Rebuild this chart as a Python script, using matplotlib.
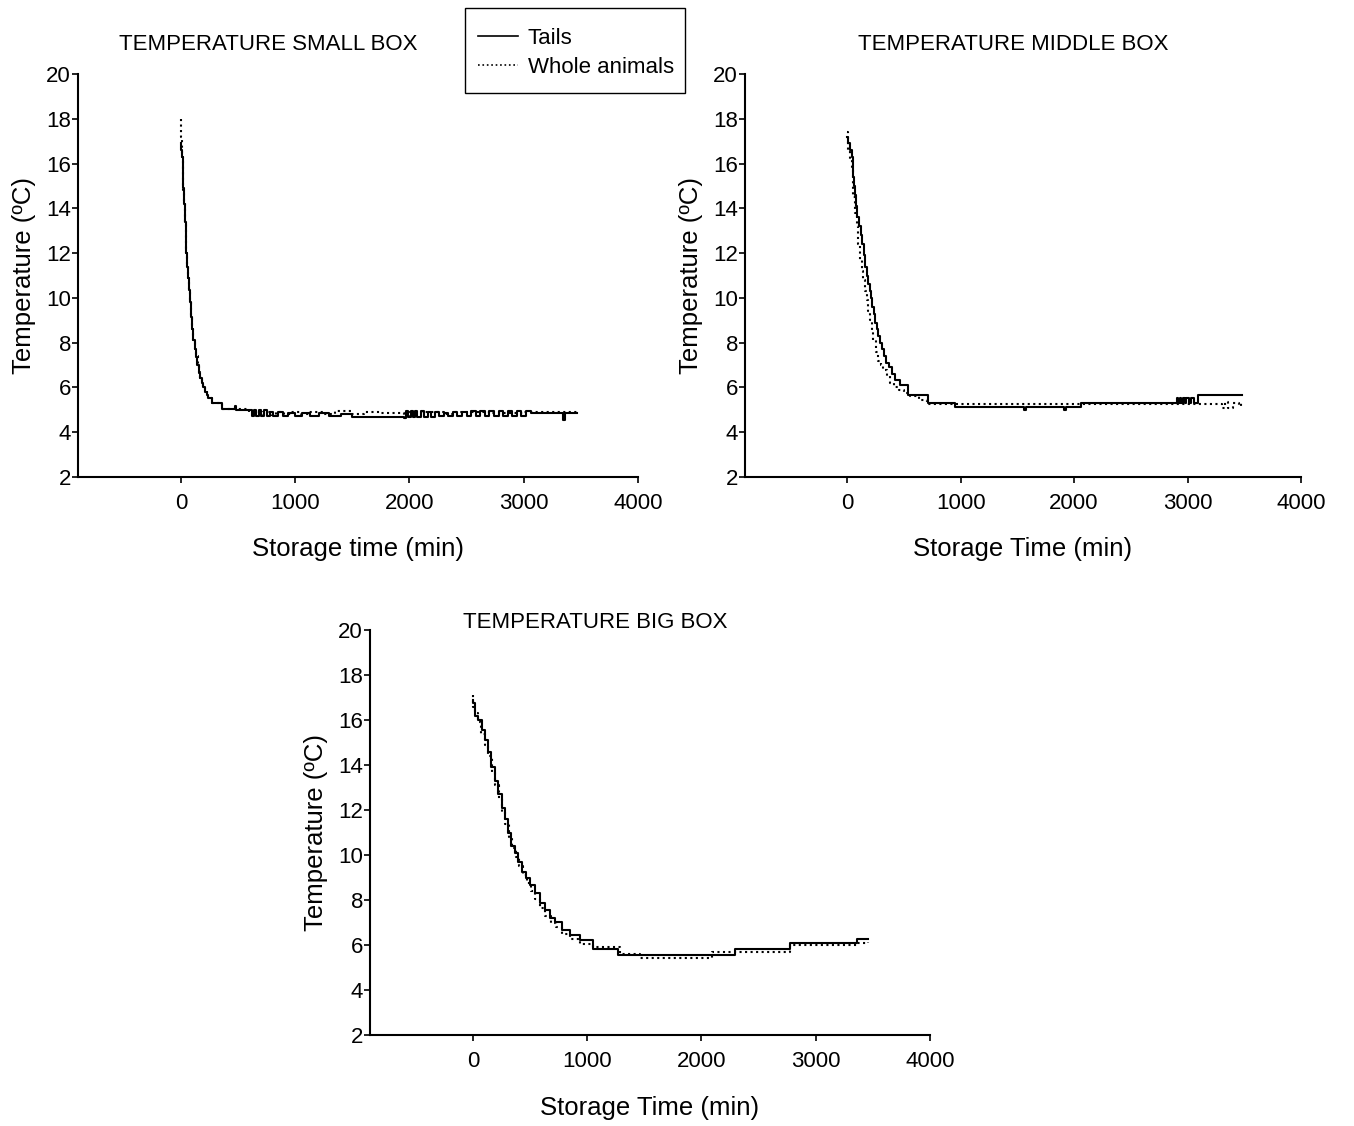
import matplotlib

matplotlib.use("Agg")
import matplotlib.pyplot as plt
from matplotlib.lines import Line2D
from matplotlib.patches import Rectangle

plt.rcParams["font.family"] = ["Liberation Sans", "DejaVu Sans"]

# (storage time in min, temperature in ºC)
SMALL_TAILS = [
    (0, 16.9), (5, 16.6), (11, 16.3), (16, 15.6), (21, 14.9), (26, 14.2),
    (33, 13.4), (41, 12.6), (48, 12.0), (55, 11.4), (62, 10.9), (70, 10.35),
    (77, 9.8), (85, 9.16), (96, 8.6), (108, 8.1), (120, 7.7), (131, 7.37),
    (145, 7.0), (158, 6.63), (170, 6.4), (181, 6.18), (195, 6.0), (210, 5.81),
    (225, 5.65), (239, 5.51), (269, 5.29), (356, 5.02), (470, 5.18), (482, 5.0),
    (620, 4.72), (640, 4.98), (660, 4.72), (680, 4.98), (700, 4.72), (725, 4.98),
    (750, 4.72), (780, 4.9), (810, 4.72), (850, 4.9), (890, 4.72), (940, 4.88),
    (1000, 4.72), (1060, 4.85), (1130, 4.72), (1210, 4.85), (1300, 4.72),
    (1400, 4.8), (1500, 4.68), (1950, 4.62), (1970, 4.95), (1990, 4.7),
    (2010, 4.95), (2030, 4.7), (2050, 4.95), (2070, 4.7), (2100, 4.95),
    (2130, 4.7), (2160, 4.9), (2190, 4.7), (2220, 4.9), (2260, 4.72),
    (2300, 4.88), (2340, 4.72), (2380, 4.9), (2420, 4.72), (2460, 4.92),
    (2500, 4.72), (2540, 4.95), (2580, 4.72), (2620, 4.95), (2660, 4.72),
    (2700, 4.95), (2740, 4.72), (2780, 4.95), (2820, 4.72), (2860, 4.95),
    (2900, 4.72), (2940, 4.95), (2980, 4.72), (3020, 4.95), (3060, 4.85),
    (3340, 4.55), (3360, 4.85), (3470, 4.85),
]
SMALL_WHOLE = [
    (0, 18.0), (4, 17.2), (8, 16.8), (12, 16.3), (17, 15.5), (22, 14.8),
    (27, 14.3), (34, 13.4), (42, 12.7), (49, 12.0), (56, 11.5), (63, 10.9),
    (71, 10.4), (78, 9.8), (86, 9.2), (97, 8.6), (109, 8.1), (121, 7.7),
    (132, 7.4), (146, 7.0), (159, 6.7), (171, 6.4), (182, 6.2), (196, 6.0),
    (211, 5.85), (226, 5.7), (240, 5.55), (270, 5.3), (356, 5.05), (600, 4.92),
    (680, 4.78), (720, 4.92), (790, 4.78), (830, 4.92), (900, 4.8), (960, 4.92),
    (1050, 4.8), (1120, 4.92), (1250, 4.8), (1350, 4.95), (1500, 4.8),
    (1600, 4.92), (1750, 4.85), (1950, 4.65), (2000, 4.9), (2300, 4.8),
    (2400, 4.92), (2700, 4.85), (3000, 4.9), (3470, 4.9),
]
MIDDLE_TAILS = [
    (0, 17.2), (10, 16.9), (25, 16.6), (42, 16.3), (50, 15.8), (56, 15.4),
    (63, 15.0), (70, 14.6), (80, 14.1), (91, 13.6), (105, 13.2), (118, 12.8),
    (130, 12.4), (145, 11.9), (159, 11.4), (174, 11.0), (188, 10.6), (199, 10.3),
    (209, 10.0), (221, 9.6), (233, 9.3), (248, 8.9), (262, 8.6), (276, 8.3),
    (291, 8.0), (306, 7.7), (321, 7.4), (343, 7.1), (365, 6.9), (394, 6.6),
    (423, 6.35), (467, 6.1), (540, 5.66), (717, 5.32), (955, 5.11),
    (1560, 5.0), (1575, 5.11), (1915, 5.0), (1930, 5.11), (2060, 5.29),
    (2905, 5.52), (2915, 5.29), (2930, 5.55), (2945, 5.29), (2960, 5.55),
    (2975, 5.3), (2990, 5.55), (3010, 5.3), (3030, 5.55), (3060, 5.3),
    (3093, 5.66), (3478, 5.66),
]
MIDDLE_WHOLE = [
    (0, 17.4), (12, 16.6), (25, 16.2), (41, 15.7), (56, 14.5), (70, 13.8),
    (85, 13.2), (100, 12.4), (115, 11.7), (130, 11.2), (144, 10.8), (158, 10.3),
    (173, 9.9), (188, 9.4), (203, 9.0), (217, 8.5), (232, 8.1), (254, 7.6),
    (276, 7.2), (298, 7.0), (320, 6.8), (350, 6.5), (379, 6.2), (415, 6.0),
    (453, 5.9), (500, 5.75), (555, 5.6), (630, 5.45), (702, 5.26),
    (3286, 5.26), (3300, 5.1), (3330, 5.35), (3360, 5.1), (3400, 5.3),
    (3450, 5.15), (3470, 5.3),
]
BIG_TAILS = [
    (0, 16.9), (3, 16.74), (18, 16.2), (46, 16.0), (76, 15.56), (105, 15.1),
    (134, 14.6), (163, 13.9), (193, 13.3), (221, 12.7), (251, 12.1), (280, 11.6),
    (309, 11.0), (338, 10.4), (368, 10.1), (397, 9.7), (426, 9.26), (464, 8.96),
    (499, 8.67), (543, 8.3), (586, 7.85), (630, 7.56), (674, 7.19), (718, 7.04),
    (776, 6.67), (849, 6.44), (937, 6.22), (1053, 5.81), (1272, 5.56),
    (2293, 5.81), (2775, 6.07), (3358, 6.25), (3460, 6.25),
]
BIG_WHOLE = [
    (0, 17.1), (5, 16.6), (20, 16.3), (45, 15.9), (75, 15.4), (105, 14.9),
    (135, 14.4), (165, 13.7), (195, 13.1), (225, 12.5), (255, 11.9), (285, 11.4),
    (315, 10.8), (345, 10.3), (375, 9.9), (405, 9.5), (435, 9.1), (470, 8.75),
    (505, 8.4), (545, 8.05), (590, 7.65), (635, 7.3), (680, 7.0), (725, 6.8),
    (780, 6.5), (850, 6.25), (940, 6.05), (1050, 5.9), (1290, 5.59),
    (1462, 5.44), (2089, 5.67), (2293, 5.7), (2775, 5.99), (3358, 6.1),
    (3460, 6.15),
]

X_TICKS = [0, 1000, 2000, 3000, 4000]
Y_TICKS = [2, 4, 6, 8, 10, 12, 14, 16, 18, 20]

W, H = 1354, 1126


def px_axes(left, top, right, bottom):
    return [left / W, 1 - bottom / H, (right - left) / W, (bottom - top) / H]


def draw_panel(ax, tails, whole, xlabel):
    for data, style in ((whole, ":"), (tails, "-")):
        t = [p[0] for p in data]
        temp = [p[1] for p in data]
        ax.plot(t, temp, color="black", linestyle=style, linewidth=1.5,
                drawstyle="steps-post")
    ax.set_xlim(-900, 4000)
    ax.set_ylim(2, 20)
    ax.set_xticks(X_TICKS)
    ax.set_yticks(Y_TICKS)
    for side in ("top", "right"):
        ax.spines[side].set_visible(False)
    for side in ("left", "bottom"):
        ax.spines[side].set_linewidth(1.5)
    ax.tick_params(axis="both", direction="out", length=4.5, width=1.2,
                   labelsize=16)
    ax.tick_params(axis="y", pad=0.5)
    ax.tick_params(axis="x", pad=7)
    ax.set_ylabel("Temperature (ºC)", fontsize=18.5)
    ax.set_xlabel(xlabel, fontsize=18.5)
    ax.yaxis.set_label_coords(-0.075, 0.5)
    ax.xaxis.set_label_coords(0.5, -0.15)


fig = plt.figure(figsize=(W / 100, H / 100), dpi=100)

ax1 = fig.add_axes(px_axes(78, 74, 638, 477))
draw_panel(ax1, SMALL_TAILS, SMALL_WHOLE, "Storage time (min)")
ax2 = fig.add_axes(px_axes(745, 74, 1301, 477))
draw_panel(ax2, MIDDLE_TAILS, MIDDLE_WHOLE, "Storage Time (min)")
ax3 = fig.add_axes(px_axes(370, 630, 930, 1035))
draw_panel(ax3, BIG_TAILS, BIG_WHOLE, "Storage Time (min)")

fig.text(268 / W, 1 - 45 / H, "TEMPERATURE SMALL BOX", fontsize=16,
         ha="center", va="center")
fig.text(1013 / W, 1 - 45 / H, "TEMPERATURE MIDDLE BOX", fontsize=16,
         ha="center", va="center")
fig.text(595 / W, 1 - 622 / H, "TEMPERATURE BIG BOX", fontsize=16,
         ha="center", va="center")

# legend box drawn separately so the padding matches the original
fig.patches.append(Rectangle((465 / W, 1 - 93 / H), 220 / W, 85 / H,
                             transform=fig.transFigure, fill=False,
                             edgecolor="black", linewidth=1.0))
handles = [
    Line2D([], [], color="black", linestyle="-", linewidth=1.2),
    Line2D([], [], color="black", linestyle=":", linewidth=1.2),
]
fig.legend(handles, ["Tails", "Whole animals"], loc="upper left",
           bbox_to_anchor=(478 / W, 1 - 28 / H), fontsize=16,
           frameon=False, handlelength=1.8, handletextpad=0.45,
           borderpad=0, labelspacing=0.35, borderaxespad=0)

fig.savefig("out.png", dpi=100)
